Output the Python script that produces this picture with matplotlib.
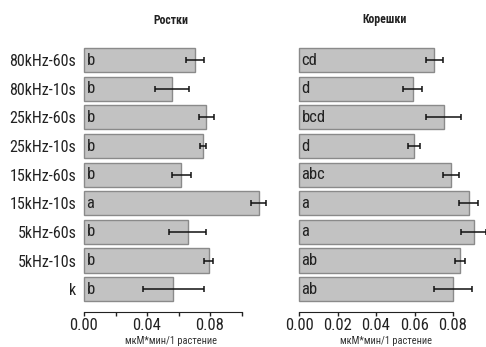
import matplotlib
matplotlib.use("Agg")
import matplotlib.pyplot as plt
import matplotlib.transforms as mtransforms

plt.rcParams['font.family'] = ['Roboto Condensed', 'Archivo Narrow', 'Liberation Sans', 'DejaVu Sans']

categories = ['80kHz-60s', '80kHz-10s', '25kHz-60s', '25kHz-10s', '15kHz-60s',
              '15kHz-10s', '5kHz-60s', '5kHz-10s', 'k']

shoots_mean = [0.0707, 0.0558, 0.0777, 0.0757, 0.0617, 0.1110, 0.0659, 0.0791, 0.0566]
shoots_err = [0.0058, 0.0110, 0.0049, 0.0019, 0.0061, 0.0048, 0.0118, 0.0030, 0.0193]
shoots_letters = ['b', 'b', 'b', 'b', 'b', 'a', 'b', 'b', 'b']

roots_mean = [0.0703, 0.0591, 0.0751, 0.0596, 0.0790, 0.0881, 0.0907, 0.0835, 0.0800]
roots_err = [0.0043, 0.0050, 0.0090, 0.0032, 0.0043, 0.0048, 0.0067, 0.0026, 0.0098]
roots_letters = ['cd', 'd', 'bcd', 'd', 'abc', 'a', 'a', 'ab', 'ab']

titles = ['Ростки', 'Корешки']
xlabel = 'мкМ*мин/1 растение'

W, H = 486, 347
fig = plt.figure(figsize=(W / 100, H / 100), dpi=100)

bottom_px, top_px = 312.0, 43.1
ax_b = 1 - bottom_px / H
ax_h = (bottom_px - top_px) / H

ax1 = fig.add_axes([84 / W, ax_b, 157.5 / W, ax_h])
ax2 = fig.add_axes([299 / W, ax_b, 154 / W, ax_h])

n = len(categories)
ypos = [n - 1 - i for i in range(n)]

face = '#c2c2c2'
edge = '#8a8a8a'

def draw(ax, means, errs, letters, xmax, ticks, ticklabels, show_cats):
    ax.barh(ypos, means, height=0.84, color=face, edgecolor=edge, linewidth=1.0,
            clip_on=False, zorder=2)
    ax.errorbar(means, ypos, xerr=errs, fmt='none', ecolor='#111111', elinewidth=1.1,
                capsize=2.5, capthick=1.1, clip_on=False, zorder=3)
    off = mtransforms.offset_copy(ax.transData, fig=fig, x=2.5, y=0, units='dots')
    for y, m, l in zip(ypos, means, letters):
        ax.text(0, y, l, transform=off, ha='left', va='center', fontsize=12,
                color='#222222', zorder=4)
    ax.set_xlim(0, xmax)
    ax.set_ylim(-0.8, 8.6)
    for s in ['top', 'right', 'left']:
        ax.spines[s].set_visible(False)
    ax.spines['bottom'].set_bounds(0, xmax)
    ax.spines['bottom'].set_color('#222222')
    ax.set_xticks(ticks)
    ax.set_xticklabels(ticklabels, fontsize=12, color='#222222')
    ax.tick_params(axis='x', direction='out', length=3, width=1, pad=1.5, colors='#222222')
    ax.tick_params(axis='x', labelcolor='#222222')
    ax.set_yticks(ypos)
    if show_cats:
        ax.set_yticklabels(categories, fontsize=11.5, color='#222222')
        ax.tick_params(axis='y', length=0, pad=5.5)
    else:
        ax.set_yticklabels([])
        ax.tick_params(axis='y', length=0)

draw(ax1, shoots_mean, shoots_err, shoots_letters, 0.10,
     [0, 0.02, 0.04, 0.06, 0.08, 0.10], ['0.00', '', '0.04', '', '0.08', ''], True)
draw(ax2, roots_mean, roots_err, roots_letters, 0.08,
     [0, 0.02, 0.04, 0.06, 0.08], ['0.00', '0.02', '0.04', '0.06', '0.08'], False)

fig.text(170.5 / W, 1 - 20 / H, titles[0], ha='center', va='center', fontsize=8.5,
         fontweight='bold', color='#222222')
fig.text(385 / W, 1 - 20 / H, titles[1], ha='center', va='center', fontsize=8.5,
         fontweight='bold', color='#222222')
fig.text(171 / W, 1 - 341 / H, xlabel, ha='center', va='center', fontsize=7.5, color='#333333')
fig.text(385.8 / W, 1 - 341 / H, xlabel, ha='center', va='center', fontsize=7.5, color='#333333')

fig.savefig('out.png', dpi=100)
